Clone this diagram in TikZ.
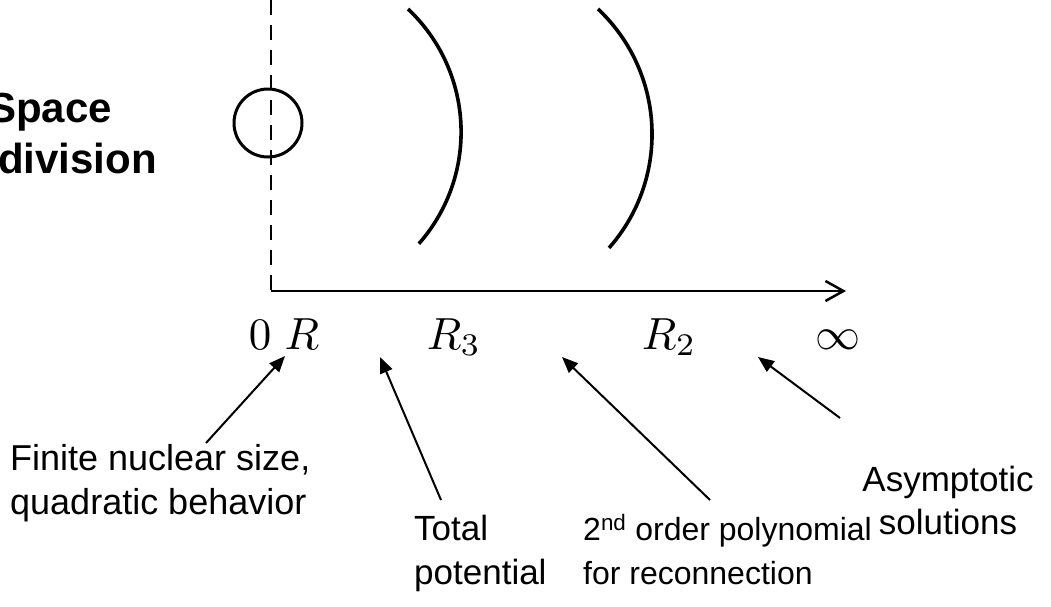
\documentclass[tikz,border=0pt]{standalone}
\usepackage{fontspec}
\setmainfont{Liberation Sans}
\usetikzlibrary{arrows.meta}
\begin{document}
\begin{tikzpicture}[x=1pt,y=-1pt,
  lbl/.style={font=\fontsize{35}{42}\selectfont, inner sep=0pt, anchor=base west},
  lblb/.style={font=\fontsize{36}{42}\selectfont, inner sep=0pt, anchor=base west},
  lbls/.style={font=\fontsize{32}{40}\selectfont, inner sep=0pt, anchor=base west},
  ttl/.style={font=\fontsize{42}{50}\selectfont\bfseries, inner sep=0pt},
  mlbl/.style={font=\normalsize, scale=4.5, inner sep=0pt, anchor=base},
  ptr/.style={line width=2pt, -{Triangle[length=16pt,width=13pt]}},
  arcline/.style={line width=3.6pt},
  axisline/.style={line width=2.5pt, -{Straight Barb[length=18pt,width=20pt]}}]
\useasboundingbox (0,0) rectangle (1051,606);
% title
\node[ttl, anchor=base east] (space) at (112,122) {Space};
\node[ttl, anchor=base west] (division) at (-2,173) {division};
% dashed line and circle
\coordinate (dtop) at (271,0);
\coordinate (o) at (271,291);
\coordinate (e) at (846,291);
\draw[line width=2pt, dash pattern=on 15pt off 10pt] (dtop) -- (o);
\draw[line width=3pt] (268,123) circle[radius=34];
% arcs
\draw[arcline] (408,9) arc[start angle=-46.7, end angle=41.4, radius=169];
\draw[arcline] (598,9) arc[start angle=-46.7, end angle=41.4, radius=172];
% axis
\draw[axisline] (o) -- (e);
% axis labels
\node[mlbl] (zero) at (260,349) {$0$};
\node[mlbl] (r) at (302,349) {$R$};
\node[mlbl] (r3) at (454,349) {$R_3$};
\node[mlbl] (r2) at (669,349) {$R_2$};
\node[mlbl] (inf) at (838,349) {$\infty$};
% bottom labels
\node[lblb] (fin1) at (10,470) {Finite nuclear size,};
\node[lblb] (fin2) at (10,514) {quadratic behavior};
\node[lbl] (tot1) at (414,540) {Total};
\node[lbl] (tot2) at (414,584) {potential};
\node[lbls] (pol1) at (583,540) {2\textsuperscript{nd} order polynomial};
\node[lbls] (pol2) at (583,584) {for reconnection};
\node[lbl, anchor=base] (asy1) at (948,491) {Asymptotic};
\node[lbl, anchor=base] (asy2) at (948,534) {solutions};
% pointers
\coordinate (t1) at (206,443); \coordinate (h1) at (285,356);
\coordinate (t2) at (441,500); \coordinate (h2) at (380,357);
\coordinate (t3) at (710,500); \coordinate (h3) at (562,357);
\coordinate (t4) at (840,418); \coordinate (h4) at (758,357);
\draw[ptr] (t1) -- (h1);
\draw[ptr] (t2) -- (h2);
\draw[ptr] (t3) -- (h3);
\draw[ptr] (t4) -- (h4);
\end{tikzpicture}
\end{document}
